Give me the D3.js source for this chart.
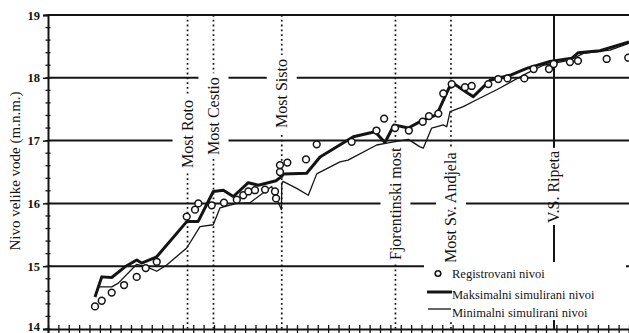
<!DOCTYPE html>
<html><head><meta charset="utf-8">
<script src="https://cdn.jsdelivr.net/npm/d3@7"></script>
<style>
html,body{margin:0;padding:0;background:#fff;}
svg{display:block;}
</style></head>
<body><svg id="chart" width="629" height="333"></svg>
<script>
// Stations along the river reach and water levels (m n.m.)
const obsStation = [4.53,5.18,6.14,7.33,8.55,9.42,10.48,13.37,14.17,14.49,15.78,16.96,18.20,18.82,19.31,19.95,20.92,21.88,21.98,22.36,22.36,23.07,24.87,25.90,29.27,31.66,32.40,33.45,34.78,36.12,36.72,37.62,38.10,38.91,40.19,40.84,42.44,43.40,44.29,45.91,46.81,48.29,48.74,50.31,51.08,53.85,55.93];
const obsLevel   = [14.36,14.45,14.58,14.70,14.83,14.97,15.07,15.79,15.90,16.00,15.97,16.01,16.06,16.13,16.19,16.21,16.22,16.19,16.08,16.50,16.61,16.65,16.70,16.94,16.98,17.16,17.35,17.20,17.16,17.30,17.39,17.43,17.75,17.90,17.85,17.87,17.90,17.98,17.99,17.99,18.14,18.14,18.22,18.25,18.27,18.30,18.32];

const maxStation = [4.53,5.18,6.14,7.42,8.55,9.03,10.48,13.37,14.46,15.93,16.90,17.86,19.31,20.27,21.98,22.53,22.69,24.93,26.22,29.43,31.52,32.48,33.35,34.73,36.17,37.46,38.91,40.51,40.99,42.60,44.53,46.14,48.39,50.48,51.11,53.20,56.00];
const maxLevel   = [14.51,14.83,14.82,14.99,15.10,15.05,15.15,15.71,15.71,16.19,16.21,16.11,16.33,16.29,16.36,16.43,16.47,16.48,16.74,17.06,17.14,16.97,17.25,17.20,17.33,17.41,17.93,17.75,17.70,17.96,18.04,18.15,18.26,18.31,18.40,18.43,18.57];

const minStation = [4.90,6.14,6.78,8.55,9.51,10.48,11.44,13.37,14.65,15.93,16.58,18.19,19.47,21.56,22.50,22.53,22.65,23.97,25.09,25.90,28.14,28.92,31.68,32.65,34.73,35.86,36.17,36.98,38.10,38.43,38.75,40.03,41.32,43.25,46.14,47.74,50.31,51.60,54.17,56.00];
const minLevel   = [14.67,14.67,14.73,15.03,14.99,14.92,15.02,15.29,15.63,15.66,15.93,16.00,16.01,16.27,15.90,16.32,16.35,16.24,16.13,16.47,16.66,16.69,16.93,16.96,17.02,16.90,16.88,17.20,17.25,17.22,17.46,17.54,17.65,17.81,18.07,18.20,18.28,18.39,18.44,18.55];

const bridgeNames   = ["Most Roto","Most Cestio","Most Sisto","Fjorentinski most","Most Sv. Andjela","V.S. Ripeta"];
const bridgeStation = [13.45,15.95,22.53,33.49,38.84,48.77];

const yTicks = [14,15,16,17,18,19];
const legendLabels = ["Registrovani nivoi","Maksimalni simulirani nivoi","Minimalni simulirani nivoi"];

// Layout: where each rotated bridge label begins (px from top) and how its marker is drawn
const labelStartPx = [168,155,128,260,263,223];
const markerDotted = [true,true,true,true,true,false];

const ink = "#141414";
const serif = "'Liberation Serif','Times New Roman',serif";

const svg = d3.select("#chart");
const x = d3.scaleLinear().domain([0,56]).range([48,629]);
const y = d3.scaleLinear().domain([14,19]).range([329,15]);

svg.append("defs").append("clipPath").attr("id","plot")
  .append("rect").attr("x",48).attr("y",0).attr("width",581).attr("height",333);

// horizontal level lines
svg.append("g").selectAll("line").data(yTicks.filter(v => v > 14)).join("line")
  .attr("x1", x(0)).attr("x2", 629)
  .attr("y1", d => y(d)).attr("y2", d => y(d))
  .attr("stroke", ink).attr("stroke-width", 2);

// bridge markers
const markers = svg.append("g");
bridgeStation.forEach((s, i) => {
  if (markerDotted[i]) {
    markers.append("line")
      .attr("x1", x(s)).attr("x2", x(s)).attr("y1", y(19)).attr("y2", y(14))
      .attr("stroke", ink).attr("stroke-width", 1.7).attr("stroke-dasharray", "1.8,3");
  }
});

// rotated bridge labels with white backing
const labels = svg.append("g");
bridgeStation.forEach((s, i) => {
  const cx = x(s), y0 = labelStartPx[i];
  const bg = labels.append("rect").attr("fill", "#fff");
  const t = labels.append("text")
    .attr("transform", `translate(${cx},${y0}) rotate(-90)`)
    .attr("dy", "0.33em")
    .attr("font-family", serif).attr("font-size", 16).attr("fill", ink)
    .text(bridgeNames[i]);
  const len = t.node().getComputedTextLength();
  if (markerDotted[i]) {
    bg.attr("x", cx - 15).attr("width", 30).attr("y", y0 - len - 4).attr("height", len + 8);
  } else {
    bg.remove();
    markers.append("line")
      .attr("x1", cx).attr("x2", cx).attr("y1", y(19)).attr("y2", y0 - len - 3)
      .attr("stroke", ink).attr("stroke-width", 2);
    markers.append("line")
      .attr("x1", cx).attr("x2", cx).attr("y1", y0 + 2).attr("y2", y(14))
      .attr("stroke", ink).attr("stroke-width", 2);
  }
});

// y axis
const minor = d3.range(14, 19.001, 0.2);
const yAxisG = svg.append("g").attr("transform", "translate(48,0)")
  .call(d3.axisLeft(y).tickValues(yTicks).tickSize(5).tickPadding(3).tickFormat(d3.format("d")));
yAxisG.select(".domain").attr("stroke", ink).attr("stroke-width", 2);
yAxisG.selectAll(".tick line").attr("stroke", ink).attr("stroke-width", 1.5);
yAxisG.selectAll(".tick text").attr("font-family", serif).attr("font-weight", "bold")
  .attr("font-size", 12.5).attr("fill", ink)
  .attr("dy", d => d === 14 ? "0.1em" : "0.32em");
yAxisG.selectAll(".minor").data(minor).join("line").attr("class", "minor")
  .attr("x1", -2.5).attr("x2", 2.5).attr("y1", d => y(d)).attr("y2", d => y(d))
  .attr("stroke", ink).attr("stroke-width", 1.3);

// x axis (stations, unlabeled)
const xAxisG = svg.append("g").attr("transform", `translate(0,${y(14)})`)
  .call(d3.axisBottom(x).tickValues(d3.range(0, 57, 1)).tickSize(4).tickFormat(""));
xAxisG.select(".domain").attr("stroke", ink).attr("stroke-width", 2);
xAxisG.selectAll(".tick line").attr("y1", -4).attr("stroke", ink).attr("stroke-width", 1.3);

// axis title
svg.append("text")
  .attr("transform", `translate(15,171) rotate(-90)`)
  .attr("text-anchor", "middle").attr("dy", "0.33em")
  .attr("font-family", serif).attr("font-size", 15).attr("fill", ink)
  .text("Nivo velike vode (m.n.m.)");

// simulated envelopes
const plot = svg.append("g").attr("clip-path", "url(#plot)");
const line = d3.line().x(d => x(d[0])).y(d => y(d[1]));
plot.append("path").datum(d3.zip(minStation, minLevel)).attr("d", line)
  .attr("fill", "none").attr("stroke", ink).attr("stroke-width", 1.3).attr("stroke-linejoin", "round");
plot.append("path").datum(d3.zip(maxStation, maxLevel)).attr("d", line)
  .attr("fill", "none").attr("stroke", ink).attr("stroke-width", 3).attr("stroke-linejoin", "round");

// recorded levels
plot.append("g").selectAll("circle").data(d3.zip(obsStation, obsLevel)).join("circle")
  .attr("cx", d => x(d[0])).attr("cy", d => y(d[1])).attr("r", 3.4)
  .attr("fill", "#fff").attr("stroke", ink).attr("stroke-width", 1.5);

// legend
const lg = svg.append("g");
lg.append("rect").attr("x", 424).attr("y", 262).attr("width", 202).attr("height", 58).attr("fill", "#fff");
lg.append("circle").attr("cx", 438).attr("cy", 273.5).attr("r", 2.8)
  .attr("fill", "#fff").attr("stroke", ink).attr("stroke-width", 1.6);
lg.append("line").attr("x1", 427).attr("x2", 452).attr("y1", 292).attr("y2", 292)
  .attr("stroke", ink).attr("stroke-width", 3);
lg.append("line").attr("x1", 428).attr("x2", 451).attr("y1", 309).attr("y2", 309)
  .attr("stroke", ink).attr("stroke-width", 1.3);
const lgBase = [278, 299, 317];
lg.selectAll("text").data(legendLabels).join("text")
  .attr("x", 452).attr("y", (d, i) => lgBase[i])
  .attr("font-family", serif).attr("font-size", 12.5).attr("fill", ink)
  .text(d => d);
</script></body></html>
